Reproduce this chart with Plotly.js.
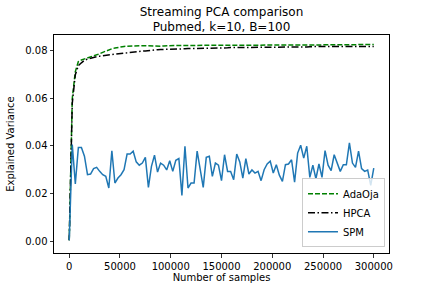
<!DOCTYPE html>
<html>
<head>
<meta charset="utf-8">
<script src="https://cdn.plot.ly/plotly-3.0.1.min.js"></script>
<style>html,body{margin:0;padding:0;background:#fff;}#chart{width:432px;height:288px;}</style>
</head>
<body>
<div id="chart"></div>
<script>
const stepSize = 3000;
const nPoints = 101;
const samples = Array.from({length: nPoints}, (_, i) => i * stepSize);

const adaOja = [
  0.0003, 0.0600, 0.0713, 0.0755, 0.0762, 0.0766, 0.0770, 0.0775, 0.0780, 0.0784,
  0.0788, 0.0794, 0.0800, 0.0804, 0.0809, 0.0812, 0.0815, 0.0818, 0.0819, 0.0820,
  0.0821, 0.0821, 0.0822, 0.0822, 0.0822, 0.0822, 0.0821, 0.0821, 0.0821, 0.0820,
  0.0820, 0.0821, 0.0822, 0.0823, 0.0823, 0.0823, 0.0823, 0.0823, 0.0823, 0.0823,
  0.0823, 0.0823, 0.0823, 0.0823, 0.0823, 0.0823, 0.0823, 0.0823, 0.0823, 0.0823,
  0.0824, 0.0824, 0.0824, 0.0824, 0.0824, 0.0824, 0.0824, 0.0824, 0.0824, 0.0824,
  0.0824, 0.0824, 0.0824, 0.0824, 0.0824, 0.0824, 0.0824, 0.0824, 0.0824, 0.0824,
  0.0825, 0.0825, 0.0825, 0.0825, 0.0825, 0.0825, 0.0825, 0.0825, 0.0825, 0.0825,
  0.0825, 0.0825, 0.0825, 0.0825, 0.0825, 0.0826, 0.0826, 0.0826, 0.0826, 0.0826,
  0.0826, 0.0826, 0.0826, 0.0826, 0.0826, 0.0827, 0.0827, 0.0827, 0.0827, 0.0827,
  0.0827
];

const hpca = [
  0.0003, 0.0580, 0.0700, 0.0738, 0.0750, 0.0760, 0.0766, 0.0770, 0.0773, 0.0776,
  0.0778, 0.0780, 0.0782, 0.0784, 0.0786, 0.0788, 0.0789, 0.0790, 0.0791, 0.0792,
  0.0794, 0.0795, 0.0797, 0.0798, 0.0799, 0.0800, 0.0802, 0.0803, 0.0804, 0.0805,
  0.0806, 0.0806, 0.0807, 0.0808, 0.0808, 0.0808, 0.0809, 0.0809, 0.0809, 0.0810,
  0.0810, 0.0810, 0.0811, 0.0811, 0.0811, 0.0812, 0.0812, 0.0812, 0.0812, 0.0813,
  0.0813, 0.0813, 0.0813, 0.0814, 0.0814, 0.0814, 0.0814, 0.0814, 0.0815, 0.0815,
  0.0815, 0.0815, 0.0815, 0.0815, 0.0816, 0.0816, 0.0816, 0.0816, 0.0816, 0.0816,
  0.0816, 0.0817, 0.0817, 0.0817, 0.0817, 0.0817, 0.0817, 0.0817, 0.0817, 0.0818,
  0.0818, 0.0818, 0.0818, 0.0818, 0.0818, 0.0818, 0.0818, 0.0818, 0.0819, 0.0819,
  0.0819, 0.0819, 0.0819, 0.0819, 0.0819, 0.0819, 0.0819, 0.0819, 0.0819, 0.0819,
  0.0819
];

const spm = [
  0.0003, 0.0406, 0.0240, 0.0394, 0.0394, 0.0357, 0.0279, 0.0282, 0.0305, 0.0310,
  0.0293, 0.0279, 0.0272, 0.0223, 0.0380, 0.0244, 0.0265, 0.0279, 0.0300, 0.0366,
  0.0366, 0.0378, 0.0333, 0.0319, 0.0328, 0.0352, 0.0226, 0.0314, 0.0361, 0.0290,
  0.0328, 0.0319, 0.0299, 0.0338, 0.0293, 0.0340, 0.0347, 0.0192, 0.0399, 0.0223,
  0.0244, 0.0244, 0.0378, 0.0293, 0.0226, 0.0352, 0.0357, 0.0272, 0.0328, 0.0319,
  0.0254, 0.0363, 0.0293, 0.0293, 0.0258, 0.0366, 0.0333, 0.0265, 0.0347, 0.0282,
  0.0299, 0.0286, 0.0293, 0.0254, 0.0300, 0.0324, 0.0336, 0.0286, 0.0321, 0.0277,
  0.0251, 0.0321, 0.0324, 0.0342, 0.0248, 0.0370, 0.0403, 0.0349, 0.0399, 0.0268,
  0.0319, 0.0262, 0.0324, 0.0268, 0.0380, 0.0319, 0.0296, 0.0363, 0.0328, 0.0293,
  0.0321, 0.0321, 0.0413, 0.0328, 0.0310, 0.0378, 0.0305, 0.0293, 0.0299, 0.0234,
  0.0307
];

const xTicks = [0, 50000, 100000, 150000, 200000, 250000, 300000];
const yTicks = [0.00, 0.02, 0.04, 0.06, 0.08];

const font = "DejaVu Sans, sans-serif";

const traces = [
  {x: samples, y: adaOja, name: 'AdaOja', mode: 'lines', type: 'scatter',
   line: {color: '#008000', width: 1.5, dash: '5px,2px'}},
  {x: samples, y: hpca, name: 'HPCA', mode: 'lines', type: 'scatter',
   line: {color: '#000000', width: 1.5, dash: '7px,2.5px,1.5px,2.5px'}},
  {x: samples, y: spm, name: 'SPM', mode: 'lines', type: 'scatter',
   line: {color: '#1f77b4', width: 1.5}}
];

const axisCommon = {
  showgrid: false, zeroline: false, showline: true, mirror: true,
  linecolor: '#000', linewidth: 1, ticks: 'outside', ticklen: 3.5,
  tickwidth: 0.8, tickcolor: '#000',
  tickfont: {family: font, size: 10, color: '#000'}
};

const layout = {
  width: 432, height: 288,
  margin: {l: 54, r: 43, t: 35, b: 35},
  paper_bgcolor: '#fff', plot_bgcolor: '#fff',
  font: {family: font, size: 10, color: '#000'},
  title: {text: 'Streaming PCA comparison<br>Pubmed, k=10, B=100',
          font: {family: font, size: 12, color: '#000'},
          x: 0.5, xref: 'paper', y: 0.946, yref: 'container', yanchor: 'top'},
  xaxis: Object.assign({}, axisCommon, {
    range: [-15000, 315000], tickvals: xTicks, tickformat: 'd',
    title: {text: 'Number of samples', font: {family: font, size: 10, color: '#000'}, standoff: 3}
  }),
  yaxis: Object.assign({}, axisCommon, {
    range: [-0.00505, 0.0867], tickvals: yTicks, tickformat: '.2f',
    title: {text: 'Explained Variance', font: {family: font, size: 10, color: '#000'}, standoff: 8}
  }),
  showlegend: true,
  legend: {x: 0.988, y: 0.026, xanchor: 'right', yanchor: 'bottom',
           bgcolor: 'rgba(255,255,255,0.8)', bordercolor: '#cccccc', borderwidth: 1,
           font: {family: font, size: 10, color: '#000'}, itemwidth: 30, tracegroupgap: 0}
};

Plotly.newPlot('chart', traces, layout, {displayModeBar: false, staticPlot: true});
</script>
</body>
</html>
